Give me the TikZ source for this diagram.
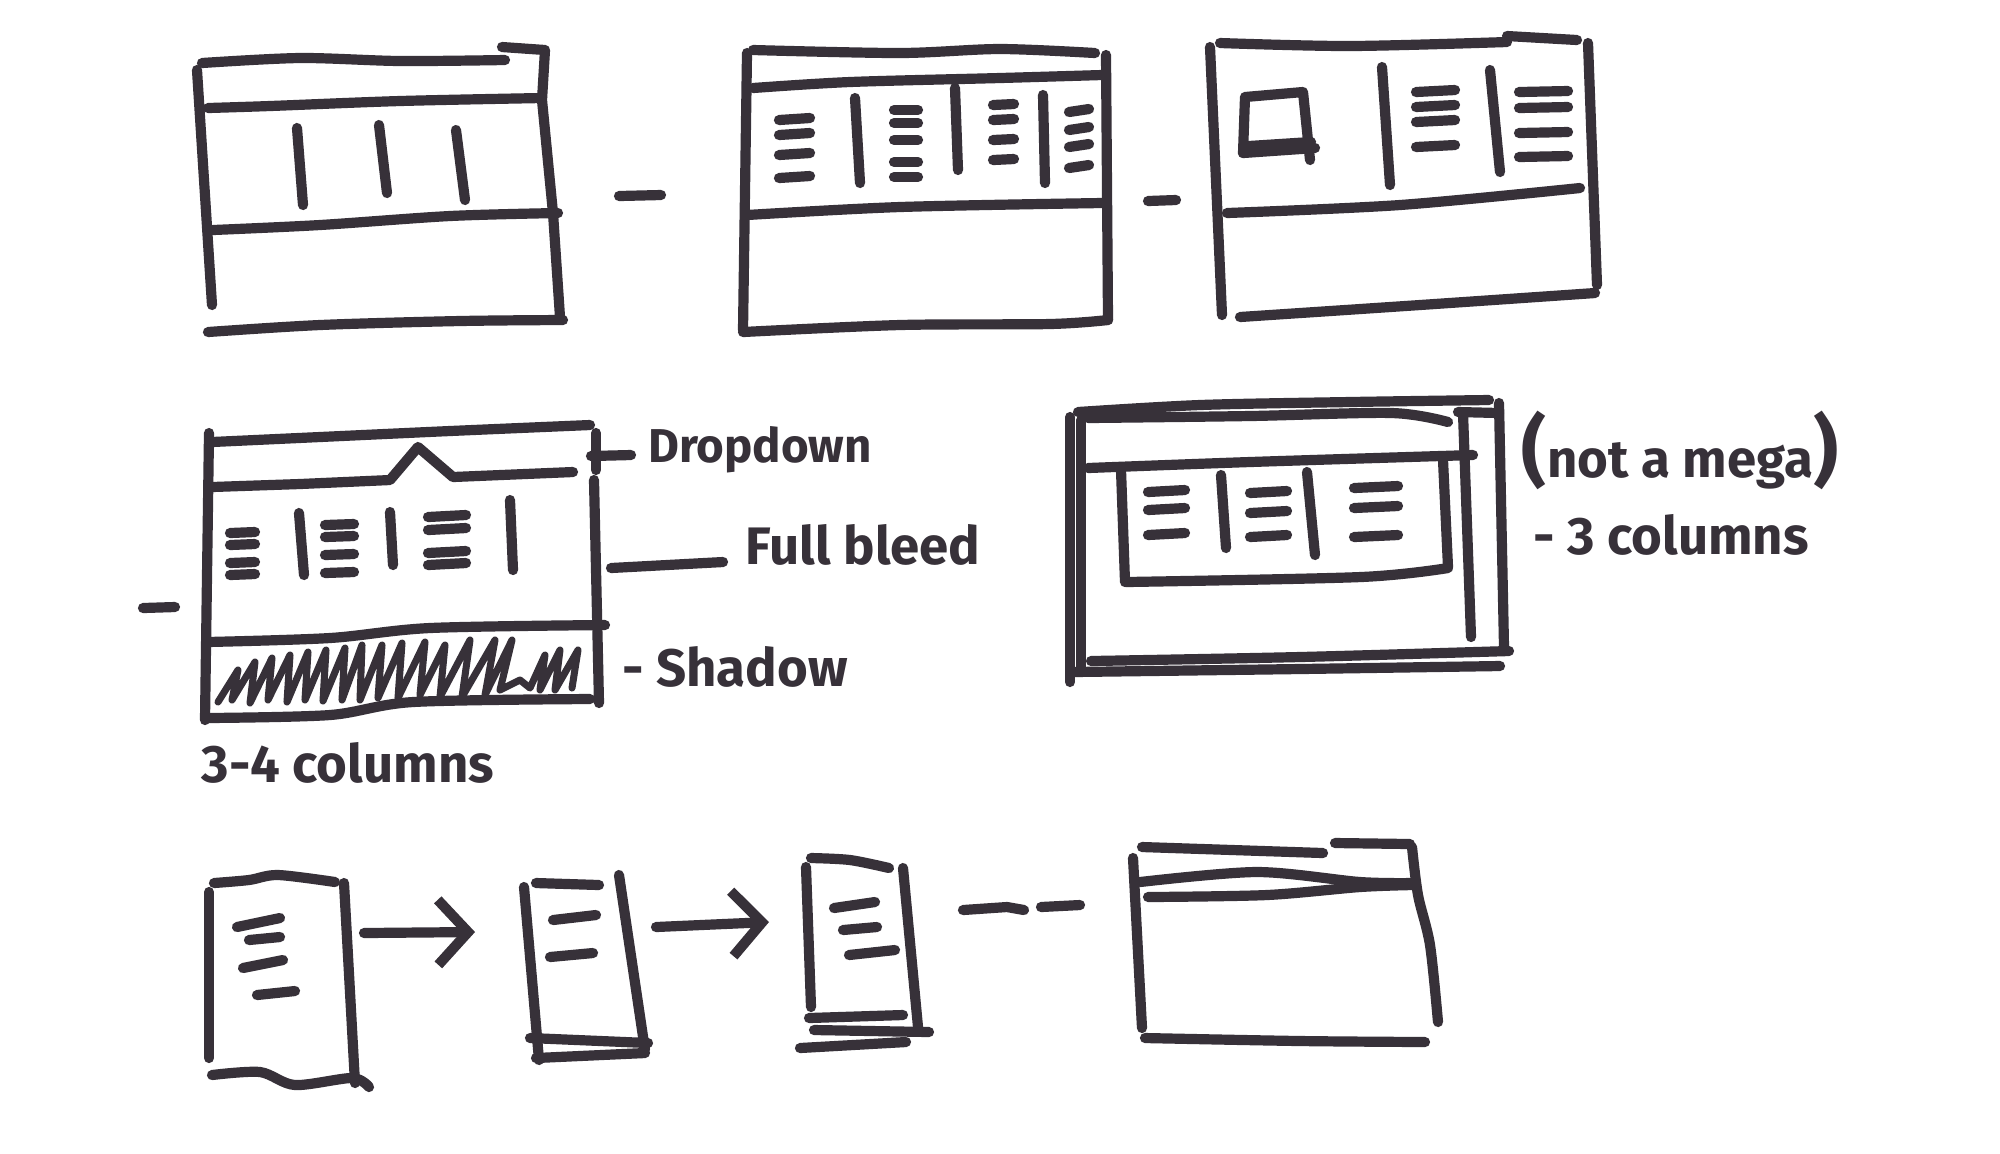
\documentclass[tikz,border=0pt]{standalone}
\usepackage{fontspec}
\setmainfont{Fira Sans}
\usepackage{tikz}
\usetikzlibrary{arrows.meta}
\definecolor{marker}{RGB}{55,49,57}
\tikzset{
    ink/.style={draw=marker, line width=2.9pt, line cap=round, line join=round},
    hatch/.style={draw=marker, line width=2pt, line cap=round, line join=round},
    note/.style={text=marker, font=\fontsize{15}{18}\selectfont\bfseries, inner sep=0pt},
    flow/.style={ink, -{Straight Barb[length=3mm, width=6.5mm]}}
}

\begin{document}
\begin{tikzpicture}[x=0.01cm, y=-0.01cm]
        \fill[white] (0,0) rectangle (2000,1153);
        \useasboundingbox (0,0) rectangle (2000,1153);

        % Top row: first sketch
        \draw[ink] plot[smooth] coordinates {(202,63) (300,58) (400,61) (505,60)};
        \draw[ink] (502,47) -- (545,50) -- (542,100) -- (553,213) -- (560,317);
        \draw[ink] (197,70) -- (212,305);
        \draw[ink] plot[smooth] coordinates {(208,108) (270,106) (400,101) (542,98)};
        \draw[ink] plot[smooth] coordinates {(213,230) (320,225) (450,216) (558,213)};
        \draw[ink] plot[smooth] coordinates {(208,332) (320,325) (460,321) (563,320)};
        \draw[ink] (297,128) -- (303,205);
        \draw[ink] (379,125) -- (387,193);
        \draw[ink] (456,130) -- (465,200);
        \draw[ink] (619,196) -- (661,195);

        % Top row: second sketch
        \draw[ink] plot[smooth] coordinates {(753,50) (900,53) (1000,49) (1095,53)};
        \draw[ink] (747,53) -- (743,330);
        \draw[ink] (1106,55) -- (1108,320);
        \draw[ink] plot[smooth] coordinates {(753,88) (850,82) (1000,78) (1102,75)};
        \draw[ink] plot[smooth] coordinates {(747,215) (900,207) (1102,203)};
        \draw[ink] plot[smooth] coordinates {(743,332) (900,325) (1050,324) (1108,320)};
        \draw[ink] (855,98) -- (860,183);
        \draw[ink] (955,88) -- (958,170);
        \draw[ink] (1043,95) -- (1045,183);
        \foreach \y in {120,135,155,178} \draw[ink] (779,\y) -- (810,\y-2);
        \foreach \y in {110,123,140,162,177} \draw[ink] (894,\y) -- (918,\y);
        \foreach \y in {105,120,140,160} \draw[ink] (993,\y) -- (1014,\y-1);
        \foreach \y in {112,130,147,168} \draw[ink] (1069,\y) -- (1089,\y-3);
        \draw[ink] (1148,201) -- (1176,200);

        % Top row: third sketch
        \draw[ink] plot[smooth] coordinates {(1220,43) (1350,46) (1507,42)};
        \draw[ink] (1507,36) -- (1577,40);
        \draw[ink] (1210,47) -- (1222,315);
        \draw[ink] (1588,43) -- (1597,285);
        \draw[ink] plot[smooth] coordinates {(1227,213) (1400,205) (1580,188)};
        \draw[ink] plot[smooth] coordinates {(1240,317) (1420,305) (1595,293)};
        \draw[ink] (1243,153) -- (1245,97) -- (1303,92) -- (1310,160);
        \draw[ink] (1243,153) -- (1315,148);
        \draw[ink] (1249,146) -- (1311,142);
        \draw[ink] (1382,67) -- (1390,185);
        \draw[ink] (1490,70) -- (1500,172);
        \foreach \y in {92,107,122,147} \draw[ink] (1416,\y) -- (1455,\y-2);
        \foreach \y in {92,108,133,157} \draw[ink] (1519,\y) -- (1568,\y-1);

        % Middle row: dropdown sketch
        \draw[ink] plot[smooth] coordinates {(212,442) (320,437) (450,431) (590,425)};
        \draw[ink] (209,433) -- (205,720);
        \draw[ink] (596,433) -- (596,470);
        \draw[ink] (591,456) -- (631,455);
        \draw[ink] (212,487) -- (300,484) -- (390,480) -- (418,447) -- (453,477) -- (573,472);
        \draw[ink] (594,480) -- (599,703);
        \draw[ink] plot[smooth] coordinates {(207,642) (330,638) (430,628) (605,625)};
        \draw[ink] plot[smooth] coordinates {(207,718) (330,715) (413,702) (590,699)};
        \foreach \y in {533,545,563,575} \draw[ink] (230,\y) -- (255,\y-1);
        \draw[ink] (299,513) -- (304,575);
        \foreach \y in {525,537,555,573} \draw[ink] (325,\y) -- (354,\y-1);
        \draw[ink] (390,512) -- (393,565);
        \foreach \y in {517,530,553,565} \draw[ink] (428,\y) -- (466,\y-2);
        \draw[ink] (510,500) -- (513,570);
        \draw[hatch] plot coordinates {(218,702) (238,670) (232,700) (255,662) (250,703) (272,658)
            (268,700) (290,655) (287,702) (308,652) (305,700) (326,650) (323,701) (345,648)
            (342,700) (362,645) (360,700) (382,645) (378,698) (402,643) (398,698) (425,642)
            (420,695) (445,645) (440,697) (470,640) (462,697) (495,640) (485,695) (512,640)
            (500,690) (520,680) (530,688) (545,655) (540,690) (560,650) (555,690) (578,650) (572,688)};
        \draw[ink] (143,608) -- (175,607);
        \draw[ink] (611,568) -- (723,562);

        \node[note, font=\fontsize{13.5}{16}\selectfont\bfseries] (dropdown) at (760,450) {Dropdown};
        \node[note] (fullbleed) at (863,545) {Full bleed};
        \node[note] (shadow) at (735,667) {- Shadow};
        \node[note] (colsA) at (348,763) {3-4 columns};

        % Middle row: boxed menu sketch
        \draw[ink] plot[smooth] coordinates {(1078,412) (1200,405) (1350,402) (1489,400)};
        \draw[ink] plot[smooth] coordinates {(1088,418) (1250,416) (1392,413) (1448,422)};
        \draw[ink] (1070,417) -- (1070,682);
        \draw[ink] (1081,420) -- (1081,670);
        \draw[ink] (1499,403) -- (1504,647);
        \draw[ink] (1463,413) -- (1471,637);
        \draw[ink] (1458,412) -- (1499,413);
        \draw[ink] plot[smooth] coordinates {(1088,468) (1250,462) (1473,455)};
        \draw[ink] plot[smooth] coordinates {(1091,661) (1300,657) (1509,651)};
        \draw[ink] plot[smooth] coordinates {(1073,672) (1300,669) (1500,666)};
        \draw[ink] (1121,470) -- (1125,582);
        \draw[ink] (1443,460) -- (1448,567);
        \draw[ink] plot[smooth] coordinates {(1126,582) (1361,577) (1448,568)};
        \draw[ink] (1221,475) -- (1226,548);
        \draw[ink] (1307,472) -- (1315,555);
        \foreach \y in {492,510,535} \draw[ink] (1148,\y) -- (1185,\y-2);
        \foreach \y in {493,513,537} \draw[ink] (1250,\y) -- (1287,\y-2);
        \foreach \y in {488,508,537} \draw[ink] (1354,\y) -- (1398,\y-2);

        \node[note] (notmega) at (1680,450) {{\fontsize{22}{22}\selectfont(}not a mega{\fontsize{22}{22}\selectfont)}};
        \node[note] (colsB) at (1671,535) {- 3 columns};

        % Bottom row: narrowing columns
        \draw[ink] plot[smooth] coordinates {(214,883) (249,880) (278,875) (335,882)};
        \draw[ink] (209,892) -- (209,1058);
        \draw[ink] (344,883) -- (355,1083);
        \draw[ink] plot[smooth] coordinates {(212,1075) (260,1072) (295,1085) (352,1078) (369,1087)};
        \draw[ink] (237,927) -- (280,918);
        \draw[ink] (249,940) -- (280,937);
        \draw[ink] (243,968) -- (283,960);
        \draw[ink] (257,995) -- (295,991);
        \coordinate (colA) at (364,933);
        \coordinate (colB) at (475,932);

        \draw[ink] (536,883) -- (599,885);
        \draw[ink] (524,887) -- (539,1060);
        \draw[ink] (619,875) -- (645,1050);
        \draw[ink] (530,1038) -- (648,1043);
        \draw[ink] (536,1058) -- (645,1053);
        \draw[ink] (553,920) -- (596,915);
        \draw[ink] (550,957) -- (593,953);
        \coordinate (colC) at (656,927);
        \coordinate (colD) at (769,922);

        \draw[ink] plot[smooth] coordinates {(811,858) (850,860) (889,868)};
        \draw[ink] (806,867) -- (811,1007);
        \draw[ink] (903,868) -- (918,1027);
        \draw[ink] (809,1018) -- (903,1015);
        \draw[ink] (814,1030) -- (929,1032);
        \draw[ink] (800,1048) -- (906,1042);
        \draw[ink] (834,908) -- (875,902);
        \draw[ink] (843,930) -- (877,927);
        \draw[ink] (849,955) -- (895,950);

        \draw[flow] (colA) -- (colB);
        \draw[flow] (colC) -- (colD);

        \draw[ink] (963,910) -- (1007,907) -- (1024,910);
        \draw[ink] (1041,907) -- (1080,905);

        % Bottom row: last sketch
        \draw[ink] (1142,847) -- (1323,853);
        \draw[ink] (1335,843) -- (1410,844);
        \draw[ink] plot[smooth] coordinates {(1412,847) (1418,895) (1430,945) (1438,1022)};
        \draw[ink] (1133,858) -- (1142,1028);
        \draw[ink] plot[smooth] coordinates {(1140,882) (1257,872) (1360,882) (1413,883)};
        \draw[ink] plot[smooth] coordinates {(1148,897) (1267,895) (1360,887) (1413,885)};
        \draw[ink] plot[smooth] coordinates {(1145,1038) (1300,1041) (1425,1042)};

    \end{tikzpicture}
\end{document}
